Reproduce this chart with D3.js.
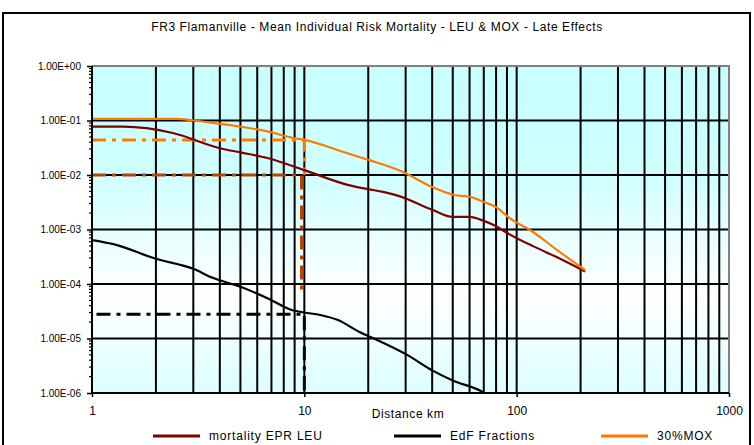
<!DOCTYPE html>
<html>
<head>
<meta charset="utf-8">
<script src="https://cdn.jsdelivr.net/npm/d3@7"></script>
<style>
  body { margin: 0; background: #fff; }
  text { font-family: "Liberation Sans", Arial, sans-serif; fill: #000; }
</style>
</head>
<body>
<svg id="chart" width="754" height="445"></svg>
<script>
// ---- data ----
const titleText = "FR3  Flamanville - Mean Individual Risk Mortality - LEU & MOX - Late Effects";
const xAxisTitle = "Distance km";

const xTicks = [1, 10, 100, 1000];
const xTickLabels = ["1", "10", "100", "1000"];
const yTicks = [1, 1e-1, 1e-2, 1e-3, 1e-4, 1e-5, 1e-6];
const yTickLabels = ["1.00E+00", "1.00E-01", "1.00E-02", "1.00E-03", "1.00E-04", "1.00E-05", "1.00E-06"];

// mortality EPR LEU
const leuDist = [1, 1.4, 2.4, 4, 5, 6.7, 10, 16, 20, 23.5, 28, 40, 50, 60, 70, 80, 90, 120, 155, 210];
const leuRisk = [0.077, 0.077, 0.059, 0.031, 0.026, 0.0205, 0.0123, 0.0066, 0.0055, 0.0049, 0.0041,
                 0.0023, 0.0017, 0.0017, 0.00144, 0.00115, 0.00087, 0.00049, 0.00031, 0.00017];

// EdF Fractions
const edfDist = [1, 1.26, 2, 3, 3.7, 5, 6.7, 8.8, 10, 11.9, 14.3, 18.3, 22, 30.5, 40, 50, 67.5, 80];
const edfRisk = [6.4e-4, 5.4e-4, 2.9e-4, 1.9e-4, 1.3e-4, 8.9e-5, 5.5e-5, 3.3e-5, 3.0e-5, 2.7e-5,
                 2.2e-5, 1.3e-5, 9.4e-6, 5.0e-6, 2.6e-6, 1.7e-6, 1.1e-6, 7.5e-7];

// 30%MOX
const moxDist = [1, 2.5, 3, 4, 5, 6.7, 8.8, 10, 16, 20, 29, 40, 50.7, 60, 70, 81, 91, 119, 155, 210];
const moxRisk = [0.107, 0.107, 0.1, 0.087, 0.077, 0.063, 0.048, 0.044, 0.025, 0.019, 0.0115,
                 0.006, 0.0043, 0.004, 0.0032, 0.0025, 0.0017, 0.00091, 0.00042, 0.00018];

// reading guides at 10 km (distance, risk pairs)
const moxGuideDist = [1, 10, 10];
const moxGuideRisk = [0.044, 0.044, 0.01];
const leuGuideDist = [1, 9.7, 9.7];
const leuGuideRisk = [0.01, 0.01, 7e-5];
const edfGuideDist = [1.05, 10, 10];
const edfGuideRisk = [2.8e-5, 2.8e-5, 1e-6];

const seriesNames = ["mortality EPR LEU", "EdF Fractions", "30%MOX"];
const seriesColors = ["#800000", "#000000", "#ff7a00"];

// ---- layout ----
const svg = d3.select("#chart");
const plot = { left: 92, right: 729, top: 66, bottom: 393 };

const x = d3.scaleLog().domain([1, 1000]).range([plot.left, plot.right]);
const y = d3.scaleLog().domain([1e-6, 1]).range([plot.bottom, plot.top]);

// outer chart frame
svg.append("rect")
  .attr("x", 3).attr("y", 13).attr("width", 747).attr("height", 460)
  .attr("fill", "#fff").attr("stroke", "#000").attr("stroke-width", 2);

// title
svg.append("text")
  .attr("x", 377).attr("y", 31)
  .attr("text-anchor", "middle")
  .attr("font-size", 12)
  .attr("letter-spacing", 0.6)
  .text(titleText);

// plot background gradient
const defs = svg.append("defs");
const grad = defs.append("linearGradient").attr("id", "bg")
  .attr("x1", 0).attr("y1", 0).attr("x2", 0).attr("y2", 1);
[[0, "#c8ffff"], [0.33, "#cfffff"], [0.7, "#ffffff"], [1, "#dcffff"]].forEach(([o, c]) =>
  grad.append("stop").attr("offset", o).attr("stop-color", c));

defs.append("clipPath").attr("id", "plotClip").append("rect")
  .attr("x", plot.left).attr("y", plot.top)
  .attr("width", plot.right - plot.left).attr("height", plot.bottom - plot.top);

svg.append("rect")
  .attr("x", plot.left).attr("y", plot.top)
  .attr("width", plot.right - plot.left).attr("height", plot.bottom - plot.top)
  .attr("fill", "url(#bg)");

// grid: every 1..9 step of each decade vertically, decades horizontally
const minorX = [];
for (let e = 0; e < 3; e++) for (let k = 1; k <= 9; k++) minorX.push(k * Math.pow(10, e));
const grid = svg.append("g").attr("stroke", "#000").attr("stroke-width", 2);
grid.selectAll("line.v").data(minorX.filter(v => v > 1)).join("line")
  .attr("class", "v")
  .attr("x1", d => x(d)).attr("x2", d => x(d))
  .attr("y1", plot.top).attr("y2", plot.bottom);
grid.selectAll("line.h").data(yTicks.filter(v => v < 1 && v > 1e-6)).join("line")
  .attr("class", "h")
  .attr("x1", plot.left).attr("x2", plot.right)
  .attr("y1", d => y(d)).attr("y2", d => y(d));

// plot border (top / right)
svg.append("path")
  .attr("d", `M${plot.left},${plot.top}H${plot.right}V${plot.bottom}`)
  .attr("fill", "none").attr("stroke", "#808080").attr("stroke-width", 2);

const line = d3.line().x(d => x(d[0])).y(d => y(d[1]));
const zip = (a, b) => a.map((v, i) => [v, b[i]]);

// reading guides
const guides = svg.append("g").attr("clip-path", "url(#plotClip)").attr("fill", "none")
  .attr("stroke-width", 3);
guides.append("path").attr("d", line(zip(leuGuideDist, leuGuideRisk)))
  .attr("stroke", "#b84300").attr("stroke-dasharray", "14,6,4,6");
guides.append("path").attr("d", line(zip(moxGuideDist, moxGuideRisk)))
  .attr("stroke", "#ff7a00").attr("stroke-dasharray", "14,6,4,6");
guides.append("path").attr("d", line(zip(edfGuideDist, edfGuideRisk)))
  .attr("stroke", "#000").attr("stroke-dasharray", "14,6,4,6");

// series curves
const smooth = d3.line().x(d => x(d[0])).y(d => y(d[1])).curve(d3.curveMonotoneX);
const seriesData = [zip(leuDist, leuRisk), zip(edfDist, edfRisk), zip(moxDist, moxRisk)];
const curves = svg.append("g").attr("clip-path", "url(#plotClip)");
[0, 1, 2].forEach(i => {
  curves.append("path").attr("d", smooth(seriesData[i]))
    .attr("fill", "none").attr("stroke", seriesColors[i]).attr("stroke-width", 2.2);
});

// y axis
const yAxis = svg.append("g").attr("transform", `translate(${plot.left},0)`)
  .call(d3.axisLeft(y).tickValues(yTicks).tickSize(5).tickPadding(6)
    .tickFormat((d, i) => yTickLabels[i]));
yAxis.select(".domain").attr("stroke", "#000").attr("stroke-width", 2).attr("d", `M0,${plot.top}V${plot.bottom}`);
yAxis.selectAll(".tick line").attr("stroke", "#000").attr("stroke-width", 1.5);
yAxis.selectAll(".tick text").attr("font-size", 10).attr("font-family", "'Liberation Sans', Arial, sans-serif");

const minorY = [];
for (let e = -6; e < 0; e++) for (let k = 2; k <= 9; k++) minorY.push(k * Math.pow(10, e));
svg.append("g").selectAll("line").data(minorY).join("line")
  .attr("x1", plot.left - 3).attr("x2", plot.left)
  .attr("y1", d => y(d)).attr("y2", d => y(d))
  .attr("stroke", "#000").attr("stroke-width", 1.2);

// x axis
const xAxis = svg.append("g").attr("transform", `translate(0,${plot.bottom})`)
  .call(d3.axisBottom(x).tickValues(xTicks).tickSize(4).tickPadding(9)
    .tickFormat((d, i) => xTickLabels[i]));
xAxis.select(".domain").attr("stroke", "#000").attr("stroke-width", 2).attr("d", `M${plot.left},0H${plot.right}`);
xAxis.selectAll(".tick line").attr("stroke", "#000").attr("stroke-width", 1.5);
xAxis.selectAll(".tick text").attr("font-size", 12).attr("font-family", "'Liberation Sans', Arial, sans-serif");

svg.append("text")
  .attr("x", 408).attr("y", 418)
  .attr("text-anchor", "middle").attr("font-size", 12)
  .attr("letter-spacing", 0.6)
  .text(xAxisTitle);

// legend
const legendX = [153, 394, 601];
const legend = svg.append("g");
[0, 1, 2].forEach(i => {
  legend.append("line")
    .attr("x1", legendX[i]).attr("x2", legendX[i] + 47)
    .attr("y1", 436).attr("y2", 436)
    .attr("stroke", seriesColors[i]).attr("stroke-width", 3);
  legend.append("text")
    .attr("x", legendX[i] + 56).attr("y", 440)
    .attr("font-size", 12)
    .attr("letter-spacing", 0.8)
    .text(seriesNames[i]);
});
</script>
</body>
</html>
